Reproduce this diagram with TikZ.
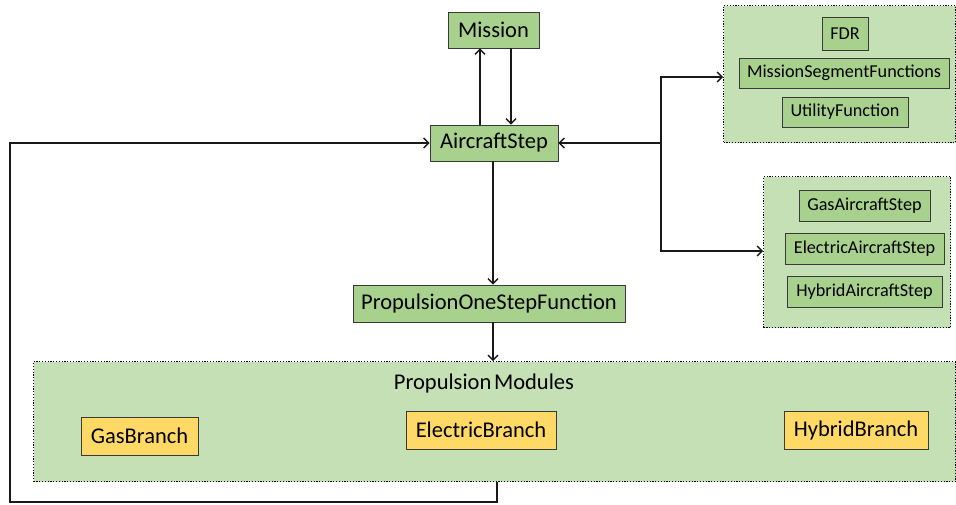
\documentclass[tikz,border=0pt]{standalone}
\usepackage{fontspec}
\setmainfont{Carlito}
\usetikzlibrary{arrows.meta}
\definecolor{boxgreen}{HTML}{A9D18E}
\definecolor{grpgreen}{HTML}{C5E0B4}
\definecolor{boxgold}{HTML}{FFD966}
\definecolor{edge}{HTML}{3A3A3A}
\tikzset{
  gbox/.style={draw=edge, line width=0.9pt, fill=boxgreen, inner sep=0pt, font=\fontsize{22.5}{24}\selectfont},
  sbox/.style={draw=edge, line width=0.9pt, fill=boxgreen, inner sep=0pt, font=\fontsize{18.2}{20}\selectfont},
  obox/.style={draw=edge, line width=0.9pt, fill=boxgold, inner sep=0pt, font=\fontsize{22.5}{24}\selectfont},
  grp/.style={draw=black, line width=1.3pt, dash pattern=on 1.2pt off 1.6pt, fill=grpgreen},
  arr/.style={line width=1.3pt, draw=black!90, -{Straight Barb[length=5pt,width=10pt,line width=1.3pt]}},
}
\begin{document}
\begin{tikzpicture}[x=1pt,y=-1pt]
\useasboundingbox[fill=white] (0,0) rectangle (956,504);
% groups
\node[grp, minimum width=232pt, minimum height=137pt, anchor=north west] (g1) at (723,5) {};
\node[grp, minimum width=187pt, minimum height=151pt, anchor=north west] (g2) at (763,176) {};
\node[grp, minimum width=922pt, minimum height=120pt, anchor=north west] (pm) at (33,361) {};
\node[font=\fontsize{22.5}{24}\selectfont] (pmlabel) at (484,383) {Propulsion\hspace{0.12em}Modules};
% main boxes
\node[gbox, minimum width=91pt, minimum height=36pt] (mission) at (493.5,30) {Mission};
\node[gbox, minimum width=128pt, minimum height=36pt] (as) at (494,143) {AircraftStep};
\node[gbox, minimum width=272pt, minimum height=37pt] (posf) at (489,303.5) {PropulsionOneStepFunction};
% branches
\node[obox, minimum width=117pt, minimum height=38pt] (gas) at (139.5,436) {GasBranch};
\node[obox, minimum width=150pt, minimum height=38pt] (elec) at (481,430) {ElectricBranch};
\node[obox, minimum width=144pt, minimum height=38pt] (hyb) at (856,430) {HybridBranch};
% group 1 items
\node[sbox, minimum width=46pt, minimum height=33pt] (fdr) at (845,33.5) {FDR};
\node[sbox, minimum width=210pt, minimum height=30pt] (msf) at (844,73) {MissionSegmentFunctions};
\node[sbox, minimum width=126pt, minimum height=30pt] (uf) at (845,112) {UtilityFunction};
% group 2 items
\node[sbox, minimum width=131pt, minimum height=31pt] (gasas) at (864.5,205.5) {GasAircraftStep};
\node[sbox, minimum width=159pt, minimum height=31pt] (elas) at (864.5,248.5) {ElectricAircraftStep};
\node[sbox, minimum width=155pt, minimum height=31pt] (hyas) at (864.5,292) {HybridAircraftStep};
% connectors
\draw[arr] (as.north -| 480,0) -- (mission.south -| 480,0);
\draw[arr] (mission.south -| 511,0) -- (as.north -| 511,0);
\coordinate (j) at (661,143);
\draw[arr] (j) -- (as.east);
\draw[arr] (j) |- (g1.west |- 0,77);
\draw[arr] (j) |- (g2.west |- 0,251);
\draw[arr] (as.south -| 493,0) -- (posf.north -| 493,0);
\draw[arr] (posf.south -| 493,0) -- (pm.north -| 493,0);
\coordinate (lb) at (10,502);
\draw[arr] (pm.south -| 497,0) |- (lb) |- (as.west);
\end{tikzpicture}
\end{document}
